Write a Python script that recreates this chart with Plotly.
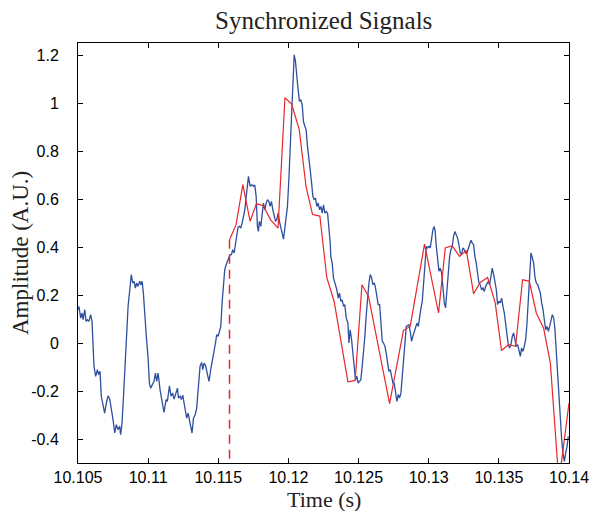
import plotly.graph_objects as go

# Measured signal (blue), sampled irregularly along its features
blue_t_a = [10.10500, 10.10507, 10.10519, 10.10529, 10.10536, 10.10548, 10.10557, 10.10567, 10.10578, 10.10590,
            10.10600, 10.10607, 10.10614, 10.10626, 10.10638, 10.10647, 10.10657, 10.10666, 10.10678, 10.10690,
            10.10702, 10.10714, 10.10726, 10.10738, 10.10750, 10.10762, 10.10773, 10.10785, 10.10797, 10.10804,
            10.10814, 10.10828, 10.10842, 10.10857, 10.10869, 10.10880, 10.10890, 10.10900, 10.10909, 10.10918,
            10.10928, 10.10940, 10.10949, 10.10957, 10.10966, 10.10976, 10.10987, 10.10999, 10.11009, 10.11018,
            10.11030, 10.11042, 10.11052, 10.11061, 10.11071, 10.11080]
blue_v_a = [0.139, 0.152, 0.104, 0.125, 0.097, 0.139, 0.090, 0.097, 0.090, 0.118,
            0.090, 0.000, -0.097, -0.139, -0.111, -0.132, -0.118, -0.222, -0.264, -0.292,
            -0.250, -0.220, -0.233, -0.271, -0.320, -0.375, -0.340, -0.361, -0.347, -0.382,
            -0.333, -0.181, 0.014, 0.152, 0.222, 0.285, 0.250, 0.257, 0.229, 0.250,
            0.236, 0.257, 0.243, 0.257, 0.208, 0.139, 0.028, -0.056, -0.167, -0.188,
            -0.174, -0.160, -0.125, -0.160, -0.125, -0.181]

blue_t_b = [10.11085, 10.11113, 10.11128, 10.11137, 10.11152, 10.11163, 10.11175, 10.11185, 10.11197, 10.11209,
            10.11216, 10.11228, 10.11237, 10.11247, 10.11256, 10.11266, 10.11275, 10.11285, 10.11294, 10.11304,
            10.11313, 10.11323, 10.11335, 10.11346, 10.11358, 10.11370, 10.11382, 10.11389, 10.11399, 10.11411,
            10.11423, 10.11434, 10.11446, 10.11458, 10.11470, 10.11480, 10.11489, 10.11499, 10.11508, 10.11518,
            10.11527, 10.11537, 10.11546, 10.11556, 10.11565, 10.11575, 10.11584, 10.11594, 10.11603, 10.11613,
            10.11622, 10.11632, 10.11641, 10.11651, 10.11660, 10.11670, 10.11679, 10.11689, 10.11698, 10.11708]
blue_v_b = [-0.195, -0.289, -0.236, -0.243, -0.178, -0.222, -0.209, -0.234, -0.211, -0.188,
            -0.229, -0.222, -0.236, -0.217, -0.250, -0.278, -0.313, -0.292, -0.320, -0.341,
            -0.375, -0.313, -0.299, -0.271, -0.181, -0.097, -0.081, -0.111, -0.084, -0.097,
            -0.132, -0.160, -0.111, -0.077, -0.035, 0.000, 0.035, 0.028, 0.048, 0.069,
            0.167, 0.250, 0.305, 0.326, 0.340, 0.358, 0.368, 0.368, 0.389, 0.375,
            0.417, 0.458, 0.483, 0.486, 0.479, 0.500, 0.528, 0.555, 0.604, 0.653]

blue_t_c = [10.11715, 10.11727, 10.11739, 10.11751, 10.11760, 10.11770, 10.11779, 10.11786, 10.11793, 10.11803,
            10.11813, 10.11822, 10.11832, 10.11841, 10.11851, 10.11860, 10.11870, 10.11879, 10.11889, 10.11898,
            10.11908, 10.11917, 10.11927, 10.11936, 10.11946, 10.11955, 10.11965, 10.11974, 10.11984, 10.11993,
            10.12003, 10.12012, 10.12022, 10.12031, 10.12041, 10.12050, 10.12060, 10.12069, 10.12079, 10.12088,
            10.12098, 10.12107, 10.12117, 10.12126, 10.12136, 10.12146, 10.12155, 10.12165, 10.12174, 10.12184,
            10.12193, 10.12203, 10.12212, 10.12222, 10.12231, 10.12241, 10.12250, 10.12260, 10.12269, 10.12279,
            10.12288, 10.12298]
blue_v_c = [0.694, 0.653, 0.660, 0.653, 0.658, 0.611, 0.486, 0.465, 0.507, 0.486,
            0.541, 0.583, 0.555, 0.583, 0.597, 0.590, 0.569, 0.590, 0.555, 0.528,
            0.507, 0.514, 0.541, 0.507, 0.486, 0.458, 0.433, 0.472, 0.514, 0.569,
            0.680, 0.819, 0.986, 1.125, 1.201, 1.174, 1.097, 1.055, 1.007, 1.014,
            0.993, 0.923, 0.903, 0.889, 0.819, 0.778, 0.722, 0.667, 0.611, 0.597,
            0.604, 0.569, 0.583, 0.555, 0.569, 0.541, 0.576, 0.541, 0.548, 0.541,
            0.486, 0.417]

blue_t_d = [10.12302, 10.12312, 10.12321, 10.12333, 10.12345, 10.12355, 10.12364, 10.12374, 10.12383, 10.12393,
            10.12402, 10.12412, 10.12424, 10.12431, 10.12440, 10.12450, 10.12459, 10.12469, 10.12478, 10.12488,
            10.12497, 10.12507, 10.12516, 10.12526, 10.12535, 10.12545, 10.12554, 10.12564, 10.12574, 10.12583,
            10.12593, 10.12602, 10.12612, 10.12621, 10.12631, 10.12640, 10.12650, 10.12659, 10.12669, 10.12678,
            10.12688, 10.12697, 10.12707, 10.12716, 10.12726, 10.12735, 10.12745, 10.12754, 10.12764, 10.12773,
            10.12783, 10.12792, 10.12802, 10.12811, 10.12821, 10.12830, 10.12840, 10.12849, 10.12859, 10.12868,
            10.12878, 10.12887, 10.12897, 10.12906, 10.12916, 10.12926, 10.12935, 10.12945, 10.12954, 10.12964,
            10.12973, 10.12983, 10.12992, 10.13002]
blue_v_d = [0.361, 0.333, 0.271, 0.250, 0.222, 0.187, 0.208, 0.173, 0.180, 0.153,
            0.160, 0.104, 0.083, 0.000, 0.055, 0.014, -0.042, -0.097, -0.153, -0.139,
            -0.167, -0.160, -0.153, -0.097, -0.042, 0.028, 0.111, 0.194, 0.250, 0.285,
            0.271, 0.243, 0.250, 0.229, 0.194, 0.160, 0.160, 0.083, 0.007, 0.000,
            -0.014, -0.042, -0.097, -0.118, -0.111, -0.139, -0.167, -0.167, -0.208, -0.243,
            -0.215, -0.229, -0.208, -0.139, -0.056, 0.021, 0.069, 0.073, 0.076, 0.048,
            0.007, 0.028, 0.048, 0.055, 0.083, 0.069, 0.111, 0.146, 0.173, 0.250,
            0.361, 0.403, 0.396, 0.403]

blue_t_e = [10.13011, 10.13020, 10.13030, 10.13039, 10.13046, 10.13054, 10.13063, 10.13073, 10.13082, 10.13092,
            10.13101, 10.13111, 10.13120, 10.13130, 10.13139, 10.13149, 10.13158, 10.13168, 10.13177, 10.13187,
            10.13196, 10.13206, 10.13215, 10.13225, 10.13234, 10.13244, 10.13253, 10.13263, 10.13272, 10.13282,
            10.13291, 10.13301, 10.13310, 10.13320, 10.13329, 10.13339, 10.13348, 10.13358, 10.13367, 10.13377,
            10.13387, 10.13396, 10.13406, 10.13415, 10.13425, 10.13434, 10.13444, 10.13453, 10.13463, 10.13472,
            10.13482, 10.13491, 10.13501, 10.13510, 10.13520, 10.13529, 10.13539, 10.13548, 10.13558, 10.13567,
            10.13577, 10.13586, 10.13596, 10.13605, 10.13615, 10.13624, 10.13634, 10.13643, 10.13653, 10.13662,
            10.13672, 10.13681, 10.13691, 10.13700, 10.13710, 10.13719, 10.13729, 10.13739, 10.13748, 10.13758,
            10.13767, 10.13777, 10.13786, 10.13796, 10.13805, 10.13815, 10.13824, 10.13834, 10.13843, 10.13853,
            10.13862, 10.13872, 10.13881, 10.13891, 10.13900, 10.13910, 10.13919, 10.13929, 10.13938, 10.13948,
            10.13957, 10.13967, 10.13976, 10.13986, 10.13995]
blue_v_e = [0.396, 0.437, 0.472, 0.486, 0.465, 0.403, 0.347, 0.299, 0.312, 0.292,
            0.236, 0.167, 0.146, 0.222, 0.278, 0.361, 0.389, 0.403, 0.444, 0.465,
            0.451, 0.437, 0.410, 0.375, 0.368, 0.396, 0.389, 0.375, 0.375, 0.396,
            0.417, 0.428, 0.417, 0.410, 0.361, 0.333, 0.292, 0.250, 0.243, 0.222,
            0.229, 0.215, 0.236, 0.250, 0.257, 0.243, 0.292, 0.312, 0.285, 0.257,
            0.222, 0.160, 0.174, 0.167, 0.187, 0.153, 0.125, 0.083, 0.028, -0.007,
            -0.021, -0.007, 0.028, 0.042, 0.014, -0.014, -0.007, -0.028, -0.056, -0.021,
            -0.035, -0.014, 0.014, 0.076, 0.194, 0.305, 0.375, 0.354, 0.333, 0.271,
            0.250, 0.243, 0.222, 0.208, 0.167, 0.139, 0.097, 0.055, 0.069, 0.049,
            0.069, 0.097, 0.118, 0.104, 0.055, -0.042, -0.139, -0.222, -0.306, -0.403,
            -0.459, -0.493, -0.459, -0.431, -0.389]

# Synchronized reference signal (red), one vertex per frame
red_t = [10.11580, 10.11627, 10.11675, 10.11727, 10.11772, 10.11820, 10.11872, 10.11926, 10.11975, 10.12023,
         10.12077, 10.12126, 10.12172, 10.12224, 10.12274, 10.12326, 10.12424, 10.12476, 10.12524, 10.12571,
         10.12721, 10.12820, 10.12868, 10.12970, 10.13070, 10.13118, 10.13167, 10.13220, 10.13268, 10.13320,
         10.13367, 10.13420, 10.13474, 10.13519, 10.13569, 10.13619, 10.13669, 10.13717, 10.13767, 10.13819,
         10.13867, 10.13928, 10.14000]
red_v = [0.430, 0.493, 0.660, 0.507, 0.581, 0.572, 0.514, 0.479, 1.022, 0.996,
         0.889, 0.650, 0.535, 0.529, 0.271, 0.173, -0.162, -0.156, 0.243, 0.194,
         -0.253, 0.053, 0.069, 0.412, 0.125, 0.396, 0.405, 0.361, 0.386, 0.205,
         0.252, 0.273, 0.167, -0.031, -0.007, -0.014, 0.264, 0.257, 0.125, 0.062,
         -0.083, -0.580, -0.250]

x_ticks = [10.105, 10.11, 10.115, 10.12, 10.125, 10.13, 10.135, 10.14]
x_labels = ["10.105", "10.11", "10.115", "10.12", "10.125", "10.13", "10.135", "10.14"]
y_ticks = [-0.4, -0.2, 0.0, 0.2, 0.4, 0.6, 0.8, 1.0, 1.2]
y_labels = ["-0.4", "-0.2", "0", "0.2", "0.4", "0.6", "0.8", "1", "1.2"]
x_range = [10.105, 10.14]
y_range = [-0.5, 1.25]

blue_t = blue_t_a + blue_t_b + blue_t_c + blue_t_d + blue_t_e
blue_v = blue_v_a + blue_v_b + blue_v_c + blue_v_d + blue_v_e
assert len(blue_t) == len(blue_v)
assert len(red_t) == len(red_v)

BLUE = "#2f4f9f"
RED = "#e8262d"
sans = "Liberation Sans, Arial, sans-serif"
serif = "Liberation Serif, Times New Roman, serif"

fig = go.Figure()
fig.add_trace(go.Scatter(x=blue_t, y=blue_v, mode="lines",
                         line=dict(color=BLUE, width=1.3), hoverinfo="skip"))
fig.add_trace(go.Scatter(x=red_t, y=red_v, mode="lines",
                         line=dict(color=RED, width=1.2), hoverinfo="skip"))
# Vertical marker at the synchronization instant
fig.add_trace(go.Scatter(x=[red_t[0], red_t[0]], y=[red_v[0], y_range[0]], mode="lines",
                         line=dict(color=RED, width=1.5, dash="9px,6px"), hoverinfo="skip"))

axis_common = dict(showline=True, linecolor="black", linewidth=1, mirror="ticks",
                   ticks="inside", ticklen=5, tickwidth=1, tickcolor="black",
                   showgrid=False, zeroline=False, automargin=False,
                   tickfont=dict(family=sans, size=16, color="black"))

fig.update_layout(
    width=590, height=511,
    margin=dict(l=78, r=21, t=43, b=48),
    plot_bgcolor="white", paper_bgcolor="white",
    showlegend=False,
    xaxis=dict(range=x_range, tickvals=x_ticks, ticktext=x_labels, **axis_common),
    yaxis=dict(range=y_range, tickvals=y_ticks, ticktext=y_labels,
               ticklabelstandoff=15, **axis_common),
    annotations=[
        dict(text="Synchronized Signals", xref="paper", yref="paper", x=0.5, y=1,
             yshift=23, xanchor="center", yanchor="middle", showarrow=False,
             font=dict(family=serif, size=25, color="#222")),
        dict(text="Time (s)", xref="paper", yref="paper", x=0.5, y=0,
             yshift=-36, xanchor="center", yanchor="middle", showarrow=False,
             font=dict(family=serif, size=22, color="#222")),
        dict(text="Amplitude (A.U.)", xref="paper", yref="paper", x=0, y=0.5,
             xshift=-58, xanchor="center", yanchor="middle", textangle=-90, showarrow=False,
             font=dict(family=serif, size=23, color="#222")),
    ],
)

fig.write_html("out.html")
